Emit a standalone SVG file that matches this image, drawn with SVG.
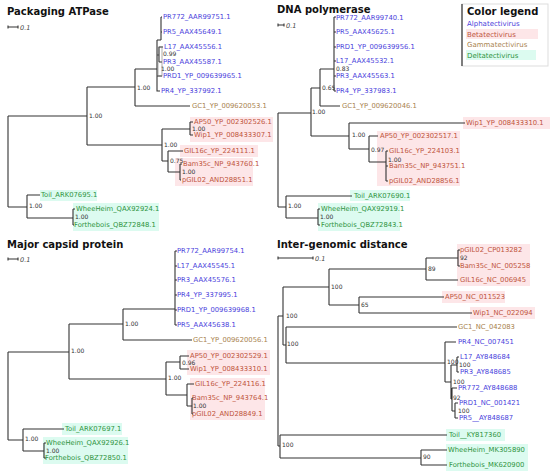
<svg xmlns="http://www.w3.org/2000/svg" width="550" height="473" viewBox="0 0 550 473">
<style>
.t{font-family:"DejaVu Sans",Verdana,sans-serif;font-weight:bold;font-size:10px;fill:#111}
.l{font-family:"DejaVu Sans",Verdana,sans-serif;font-size:6.8px}
.a{fill:#4b3fdc}.b{fill:#c0553d}.g{fill:#a9834f}.d{fill:#2f9440}
.bs{font-family:"DejaVu Sans",Verdana,sans-serif;font-size:6px;fill:#333}
.sc{font-family:"DejaVu Sans",Verdana,sans-serif;font-size:6.5px;font-style:italic;fill:#444}
.e{fill:none;stroke:#333;stroke-width:1.1}
.pk{fill:#fde6e8}.mt{fill:#dcfbf0}
.lg{font-family:"DejaVu Sans",Verdana,sans-serif;font-size:7px}
</style>
<rect width="550" height="473" fill="#fff"/>
<g id="backgrounds">
<rect class="pk" x="190" y="117" width="83" height="25"/>
<rect class="pk" x="180" y="145" width="78" height="12"/>
<rect class="pk" x="175" y="158" width="78" height="28"/>
<rect class="mt" x="40" y="190" width="57" height="11"/>
<rect class="mt" x="73" y="203" width="86" height="28"/>
<rect class="pk" x="463" y="117" width="87" height="12"/>
<rect class="pk" x="377" y="131" width="83" height="55"/>
<rect class="mt" x="350" y="190" width="60" height="11"/>
<rect class="mt" x="318" y="203" width="82" height="28"/>
<rect class="pk" x="187" y="350" width="83" height="25"/>
<rect class="pk" x="190" y="378" width="75" height="42"/>
<rect class="mt" x="62" y="423" width="60" height="12"/>
<rect class="mt" x="43" y="437" width="85" height="27"/>
<rect class="pk" x="457" y="244" width="73" height="42"/>
<rect class="pk" x="442" y="291" width="63" height="12"/>
<rect class="pk" x="470" y="307" width="65" height="12"/>
<rect class="mt" x="446" y="429" width="59" height="12"/>
<rect class="mt" x="446" y="444" width="82" height="27"/>
<rect class="pk" x="466" y="29" width="72" height="10"/>
<rect class="mt" x="466" y="50" width="70" height="10"/>
</g>
<g id="titles">
<text class="t" x="7" y="14.5">Packaging ATPase</text>
<text class="t" x="277" y="12.5">DNA polymerase</text>
<text class="t" x="7" y="247.5">Major capsid protein</text>
<text class="t" x="277" y="247.5">Inter-genomic distance</text>
</g>
<g id="scales">
<path class="e" d="M8,27H18M8,25.5V28.5M18,25.5V28.5M278,25H284M278,23.5V26.5M284,23.5V26.5M8,259H18M8,257.5V260.5M18,257.5V260.5M278,258H313M278,256.5V259.5M313,256.5V259.5"/>
<text class="sc" x="20" y="29.5">0.1</text>
<text class="sc" x="286" y="27.5">0.1</text>
<text class="sc" x="20" y="261.5">0.1</text>
<text class="sc" x="315" y="260.5">0.1</text>
</g>
<g id="legend">
<rect x="462" y="4" width="86" height="62" fill="none" stroke="#ddd" stroke-width="1"/>
<path d="M462,4V66" stroke="#222" stroke-width="1.1"/>
<text class="t" x="467" y="15">Color legend</text>
<text class="lg a" x="467" y="26">Alphatectivirus</text>
<text class="lg b" x="467" y="36.5">Betatectivirus</text>
<text class="lg g" x="467" y="47">Gammatectivirus</text>
<text class="lg d" x="467" y="57.5">Deltatectivirus</text>
</g>
<g id="connectors">
<path class="e" d="M8,116V207M8,116H87M8,207H27M87,87V145M87,87H135M87,145H162M135,69V106M135,69H157M135,106H190M157,40V91H160M157,40H161M161,17V40M161,17H162M161,32H162M157,76H162M159,47V62M157,55H159M159,47H163M159,62H162M162,129V161M162,129H190M162,161H168M190,122V135M190,122H193M190,135H193M168,151V172M168,151H183M168,172H180M180,164V180M180,164H182M180,180H181M27,195V218M27,195H40M27,218H73M73,209V225M73,209H75M73,225H74"/>
<rect x="158" y="47" width="4" height="29" fill="none" stroke="#777" stroke-width="0.6"/>
<path class="e" d="M278,113V207M278,113H311M278,207H286M311,88V136M311,88H320M311,136H349M320,69V106M320,69H334M320,106H340M334,17V91M334,17H336M334,32H336M334,47H336M334,61H336M334,76H336M334,91H336M349,123V149M349,123H465M349,149H369M369,136V162M369,136H378M369,162H386M386,151V181M386,151H388M386,166H388M386,181H388M286,196V218M286,196H352M286,218H318M318,209V225M318,209H320M318,225H320"/>
<path class="e" d="M8,352V440M8,352H69M8,440H23M69,324V379M69,324H123M69,379H166M123,309V340M123,309H175M123,340H192M175,251V325M175,251H177M175,266H177M175,280H177M175,295H177M175,310H177M175,325H177M166,362V395M166,362H180M166,395H187M180,356V369M180,356H189M180,369H189M187,384V406M187,384H194M187,406H192M192,398V414M192,398H193M192,414H193M23,429V451M23,429H64M23,451H44M44,443V458M44,443H46M44,458H46"/>
<path class="e" d="M278,316V446M278,316H283M278,446H280M283,287V345M283,287H329M283,345H286M329,269V305M329,269H426M329,305H359M426,258V280M426,258H458M426,280H458M458,250V266M458,250H460M458,266H460M359,297V313M359,297H444M359,313H472M286,327V363M286,327H457M286,363H445M445,342V382M445,342H456M445,382H451M451,365V399M451,365H457M451,399H452M457,357V372M457,357H459M457,372H459M452,388V411M452,388H457M452,411H455M455,403V418M455,403H458M455,418H458M280,435V458M280,435H447M280,458H421M421,450V465M421,450H447M421,465H447"/>
</g>
<g id="support">
<text class="bs" x="163" y="56.2">0.99</text>
<text class="bs" x="161" y="71">1.00</text>
<text class="bs" x="137" y="90.2">1.00</text>
<text class="bs" x="89" y="118.2">1.00</text>
<text class="bs" x="164" y="147.2">1.00</text>
<text class="bs" x="192" y="131.2">1.00</text>
<text class="bs" x="170" y="163.2">0.75</text>
<text class="bs" x="182" y="174.2">1.00</text>
<text class="bs" x="29" y="208.2">1.00</text>
<text class="bs" x="75" y="219.2">1.00</text>
<text class="bs" x="336" y="71.2">0.83</text>
<text class="bs" x="322" y="90.2">0.65</text>
<text class="bs" x="312" y="114.2">1.00</text>
<text class="bs" x="352" y="137.2">1.00</text>
<text class="bs" x="371" y="152.2">0.97</text>
<text class="bs" x="388" y="162.2">1.00</text>
<text class="bs" x="288" y="208.2">1.00</text>
<text class="bs" x="320" y="219.2">1.00</text>
<text class="bs" x="125" y="326.2">1.00</text>
<text class="bs" x="71" y="353.2">1.00</text>
<text class="bs" x="168" y="380.2">1.00</text>
<text class="bs" x="182" y="364.8">0.96</text>
<text class="bs" x="193" y="408.2">1.00</text>
<text class="bs" x="25" y="441.2">1.00</text>
<text class="bs" x="46" y="453.2">1.00</text>
<text class="bs" x="460" y="260.2">92</text>
<text class="bs" x="428" y="271.2">89</text>
<text class="bs" x="331" y="289.2">100</text>
<text class="bs" x="361" y="307.2">65</text>
<text class="bs" x="286" y="318.2">100</text>
<text class="bs" x="287" y="346.2">100</text>
<text class="bs" x="447" y="364.2">100</text>
<text class="bs" x="459" y="367.2">100</text>
<text class="bs" x="453" y="384.2">100</text>
<text class="bs" x="453" y="400.2">92</text>
<text class="bs" x="458" y="413.2">100</text>
<text class="bs" x="282" y="447.2">100</text>
<text class="bs" x="423" y="459.2">90</text>
</g>
<g id="p1-PR772"><text class="l a" x="163" y="19.4">PR772_AAR99751.1</text></g>
<g id="p1-PR5"><text class="l a" x="163" y="34.4">PR5_AAX45649.1</text></g>
<g id="p1-L17"><text class="l a" x="164" y="49.4">L17_AAX45556.1</text></g>
<g id="p1-PR3"><text class="l a" x="163" y="64.4">PR3_AAX45587.1</text></g>
<g id="p1-PRD1"><text class="l a" x="163" y="78.4">PRD1_YP_009639965.1</text></g>
<g id="p1-PR4"><text class="l a" x="161" y="93.4">PR4_YP_337992.1</text></g>
<g id="p1-GC1"><text class="l g" x="192" y="108.4">GC1_YP_009620053.1</text></g>
<g id="p1-AP50"><text class="l b" x="194" y="124.4">AP50_YP_002302526.1</text></g>
<g id="p1-Wip1"><text class="l b" x="194" y="137.4">Wip1_YP_008433307.1</text></g>
<g id="p1-GIL16c"><text class="l b" x="184" y="153.4">GIL16c_YP_224111.1</text></g>
<g id="p1-Bam35c"><text class="l b" x="183" y="166.4">Bam35c_NP_943760.1</text></g>
<g id="p1-pGIL02"><text class="l b" x="182" y="182.4">pGIL02_AND28851.1</text></g>
<g id="p1-Toil"><text class="l d" x="41" y="197.4">Toil_ARK07695.1</text></g>
<g id="p1-WheeHeim"><text class="l d" x="76" y="211.4">WheeHeim_QAX92924.1</text></g>
<g id="p1-Forthebois"><text class="l d" x="74" y="227.4">Forthebois_QBZ72848.1</text></g>
<g id="p2-PR772"><text class="l a" x="336" y="20">PR772_AAR99740.1</text></g>
<g id="p2-PR5"><text class="l a" x="336" y="34.4">PR5_AAX45625.1</text></g>
<g id="p2-PRD1"><text class="l a" x="336" y="49.4">PRD1_YP_009639956.1</text></g>
<g id="p2-L17"><text class="l a" x="336" y="63.4">L17_AAX45532.1</text></g>
<g id="p2-PR3"><text class="l a" x="336" y="78.4">PR3_AAX45563.1</text></g>
<g id="p2-PR4"><text class="l a" x="336" y="93.4">PR4_YP_337983.1</text></g>
<g id="p2-GC1"><text class="l g" x="342" y="108.4">GC1_YP_009620046.1</text></g>
<g id="p2-Wip1"><text class="l b" x="466" y="125.4">Wip1_YP_008433310.1</text></g>
<g id="p2-AP50"><text class="l b" x="380" y="138.4">AP50_YP_002302517.1</text></g>
<g id="p2-GIL16c"><text class="l b" x="389" y="153.4">GIL16c_YP_224103.1</text></g>
<g id="p2-Bam35c"><text class="l b" x="389" y="168.4">Bam35c_NP_943751.1</text></g>
<g id="p2-pGIL02"><text class="l b" x="389" y="183.4">pGIL02_AND28856.1</text></g>
<g id="p2-Toil"><text class="l d" x="354" y="198.4">Toil_ARK07690.1</text></g>
<g id="p2-WheeHeim"><text class="l d" x="321" y="211.4">WheeHeim_QAX92919.1</text></g>
<g id="p2-Forthebois"><text class="l d" x="321" y="227.4">Forthebois_QBZ72843.1</text></g>
<g id="p3-PR772"><text class="l a" x="177" y="253.4">PR772_AAR99754.1</text></g>
<g id="p3-L17"><text class="l a" x="177" y="268.4">L17_AAX45545.1</text></g>
<g id="p3-PR3"><text class="l a" x="177" y="282.4">PR3_AAX45576.1</text></g>
<g id="p3-PR4"><text class="l a" x="177" y="297.4">PR4_YP_337995.1</text></g>
<g id="p3-PRD1"><text class="l a" x="177" y="312.4">PRD1_YP_009639968.1</text></g>
<g id="p3-PR5"><text class="l a" x="177" y="327.4">PR5_AAX45638.1</text></g>
<g id="p3-GC1"><text class="l g" x="193" y="342.4">GC1_YP_009620056.1</text></g>
<g id="p3-AP50"><text class="l b" x="190" y="357.8">AP50_YP_002302529.1</text></g>
<g id="p3-Wip1"><text class="l b" x="190" y="371.4">Wip1_YP_008433310.1</text></g>
<g id="p3-GIL16c"><text class="l b" x="195" y="386.4">GIL16c_YP_224116.1</text></g>
<g id="p3-Bam35c"><text class="l b" x="192" y="400.4">Bam35c_NP_943764.1</text></g>
<g id="p3-pGIL02"><text class="l b" x="192" y="416.4">pGIL02_AND28849.1</text></g>
<g id="p3-Toil"><text class="l d" x="65" y="431.4">Toil_ARK07697.1</text></g>
<g id="p3-WheeHeim"><text class="l d" x="46" y="445.4">WheeHeim_QAX92926.1</text></g>
<g id="p3-Forthebois"><text class="l d" x="45" y="460.4">Forthebois_QBZ72850.1</text></g>
<g id="p4-pGIL02"><text class="l b" x="460" y="252.4">pGIL02_CP013282</text></g>
<g id="p4-Bam35c"><text class="l b" x="460" y="268.4">Bam35c_NC_005258</text></g>
<g id="p4-GIL16c"><text class="l b" x="460" y="282.4">GIL16c_NC_006945</text></g>
<g id="p4-AP50"><text class="l b" x="445" y="299.4">AP50_NC_011523</text></g>
<g id="p4-Wip1"><text class="l b" x="473" y="315.4">Wip1_NC_022094</text></g>
<g id="p4-GC1"><text class="l g" x="458" y="329.4">GC1_NC_042083</text></g>
<g id="p4-PR4"><text class="l a" x="458" y="344.4">PR4_NC_007451</text></g>
<g id="p4-L17"><text class="l a" x="460" y="359.4">L17_AY848684</text></g>
<g id="p4-PR3"><text class="l a" x="460" y="374.4">PR3_AY848685</text></g>
<g id="p4-PR772"><text class="l a" x="458" y="390.4">PR772_AY848688</text></g>
<g id="p4-PRD1"><text class="l a" x="459" y="405.4">PRD1_NC_001421</text></g>
<g id="p4-PR5"><text class="l a" x="459" y="420.4">PR5__AY848687</text></g>
<g id="p4-Toil"><text class="l d" x="449" y="437.4">Toil__KY817360</text></g>
<g id="p4-WheeHeim"><text class="l d" x="448" y="452.4">WheeHeim_MK305890</text></g>
<g id="p4-Forthebois"><text class="l d" x="449" y="467.4">Forthebois_MK620900</text></g>
</svg>
